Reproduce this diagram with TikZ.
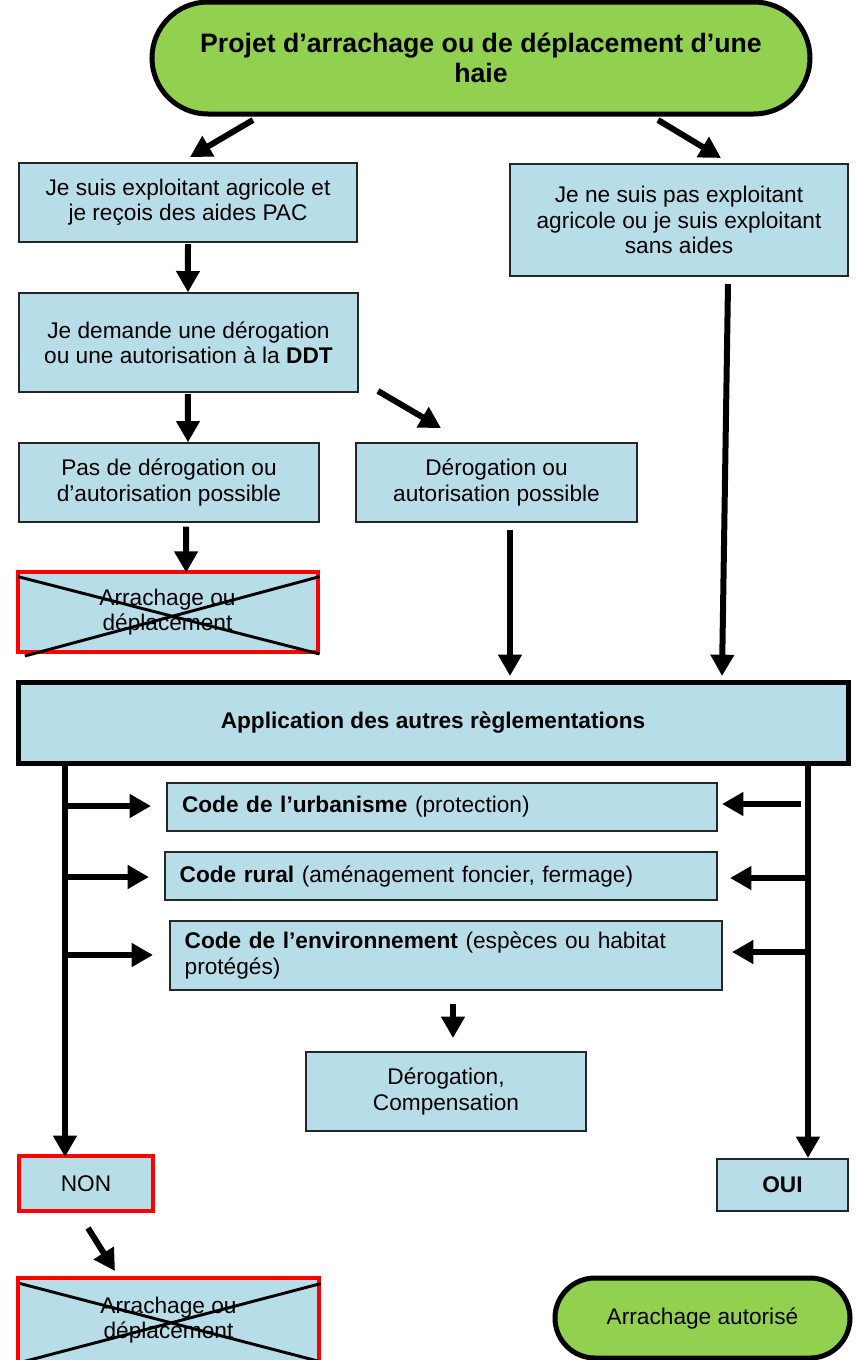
\documentclass[tikz,border=0pt]{standalone}
\usepackage{fontspec}
\setmainfont{Liberation Sans}
\usetikzlibrary{arrows.meta,calc}
\definecolor{lb}{RGB}{183,222,232}
\definecolor{gr}{RGB}{146,208,80}
\definecolor{rd}{RGB}{255,0,0}
\begin{document}
\begin{tikzpicture}[x=0.75pt,y=-0.75pt,
  txt/.style={font=\fontsize{17}{19}\selectfont},
  box/.style={txt, draw=black!85, line width=1pt, fill=lb, align=center, inner sep=2pt},
  redbox/.style={box, draw=rd, line width=3pt},
  bigbox/.style={box, draw=black, line width=3.75pt},
  codebox/.style={box, align=left, inner xsep=11pt},
  pill/.style={draw=black, line width=3.75pt, fill=gr, align=center, rounded corners=30pt},
  cross/.style={line width=2.2pt, black},
  arr/.style={line width=4.5pt, -{Triangle[length=16pt,width=17pt]}},
  trunk/.style={line width=4.5pt}
]
\useasboundingbox (0,0) rectangle (862,1360);

% top pill
\node[pill, rounded corners=42pt, minimum width=493.5pt, minimum height=84pt,
      font=\fontsize{20}{22.5}\selectfont\bfseries] (top) at (481,58)
  {Projet d’arrachage ou de déplacement d’une\\haie};

\node[box, minimum width=253.5pt, minimum height=59.25pt] (b1) at (188,202.5)
  {Je suis exploitant agricole et\\je reçois des aides PAC};
\node[box, minimum width=253.5pt, minimum height=84pt] (b2) at (679,220)
  {Je ne suis pas exploitant\\agricole ou je suis exploitant\\sans aides};
\node[box, minimum width=254.25pt, minimum height=74.25pt] (b3) at (188.5,342.5)
  {Je demande une dérogation\\ou une autorisation à la \textbf{DDT}};
\node[box, minimum width=225pt, minimum height=59.25pt] (b4) at (169,482.5)
  {Pas de dérogation ou\\d’autorisation possible};
\node[box, minimum width=210.75pt, minimum height=59.25pt] (b5) at (496.5,482.5)
  {Dérogation ou\\autorisation possible};
\node[redbox, minimum width=225pt, minimum height=60pt] (x1) at (167.5,612)
  {Arrachage ou\\déplacement};
\draw[cross] ($(x1.north west)+(2pt,-5pt)$) -- (x1.south east);
\draw[cross] ($(x1.south west)+(7pt,-1.5pt)$) -- ($(x1.north east)+(0,-5pt)$);

\node[bigbox, minimum width=622.5pt, minimum height=60.75pt, font=\fontsize{17}{19}\selectfont\bfseries] (app) at (433,722.5)
  {Application des autres règlementations};

\node[codebox, minimum width=412.5pt, minimum height=36pt, text width=390pt] (c1) at (442,807)
  {\textbf{Code de l’urbanisme} (protection)};
\node[codebox, minimum width=414pt, minimum height=36pt, text width=392pt] (c2) at (441,876)
  {\textbf{Code rural} (aménagement foncier, fermage)};
\node[codebox, minimum width=414pt, minimum height=51.75pt, text width=392pt] (c3) at (446,955.5)
  {\textbf{Code de l’environnement} (espèces ou habitat\\protégés)};

\node[box, minimum width=210pt, minimum height=59.25pt] (d) at (446,1091.5)
  {Dérogation,\\Compensation};

\node[redbox, minimum width=100.5pt, minimum height=41.25pt] (non) at (86,1183.5) {NON};
\node[box, minimum width=98.25pt, minimum height=39pt, font=\fontsize{17}{19}\selectfont\bfseries] (oui) at (782.5,1185) {OUI};

\node[redbox, minimum width=225.75pt, minimum height=63.75pt] (x2) at (168.5,1320)
  {Arrachage ou\\déplacement};
\draw[cross] ($(x2.north west)+(3pt,-6pt)$) -- ($(x2.south east)+(0,2pt)$);
\draw[cross] ($(x2.south west)+(5pt,2pt)$) -- ($(x2.north east)+(0,-6pt)$);

\node[pill, rounded corners=30pt, minimum width=221.25pt, minimum height=60pt, txt] (ok) at (702.5,1318)
  {Arrachage autorisé};

% connector end points
\coordinate (a1s) at (253,120); \coordinate (a1e) at (190,157);
\coordinate (a2s) at (658,120); \coordinate (a2e) at (721,158);
\coordinate (a5s) at (378,391); \coordinate (a5e) at (441,428);
\coordinate (a7s) at (510,530); \coordinate (a7e) at (510,676);
\coordinate (a8s) at (728,284); \coordinate (a8e) at (722,676);
\coordinate (Lt) at (65,765); \coordinate (Lb) at (65,1157);
\coordinate (Rt) at (808,765); \coordinate (Rb) at (808,1158);
\coordinate (L1) at (65,806); \coordinate (L1e) at (151,806);
\coordinate (L2) at (65,877); \coordinate (L2e) at (149,877);
\coordinate (L3) at (65,955); \coordinate (L3e) at (153,955);
\coordinate (R1) at (801,804); \coordinate (R1e) at (722,804);
\coordinate (R2) at (808,878); \coordinate (R2e) at (730,878);
\coordinate (R3) at (808,952); \coordinate (R3e) at (732,952);
\coordinate (ds) at (453,1004); \coordinate (de) at (453,1038);
\coordinate (es) at (88,1228); \coordinate (ee) at (115,1271);

\draw[arr] (a1s) -- (a1e);
\draw[arr] (a2s) -- (a2e);
\draw[arr] ($(b1.south)+(0,-1pt)$) -- ($(b3.north)+(-0.4pt,0)$);
\draw[arr] ($(b3.south)+(-0.4pt,-1pt)$) -- ($(b4.north)+(14.25pt,0)$);
\draw[arr] (a5s) -- (a5e);
\draw[arr] ($(b4.south)+(12.75pt,-3pt)$) -- ($(x1.north)+(14pt,-2pt)$);
\draw[arr] (a7s) -- (a7e);
\draw[arr] (a8s) -- (a8e);
\draw[arr] (Lt) -- (Lb);
\draw[arr] (Rt) -- (Rb);
\draw[arr] (L1) -- (L1e);
\draw[arr] (L2) -- (L2e);
\draw[arr] (L3) -- (L3e);
\draw[arr] (R1) -- (R1e);
\draw[arr] (R2) -- (R2e);
\draw[arr] (R3) -- (R3e);
\draw[arr] (ds) -- (de);
\draw[arr] (es) -- (ee);
\end{tikzpicture}
\end{document}
